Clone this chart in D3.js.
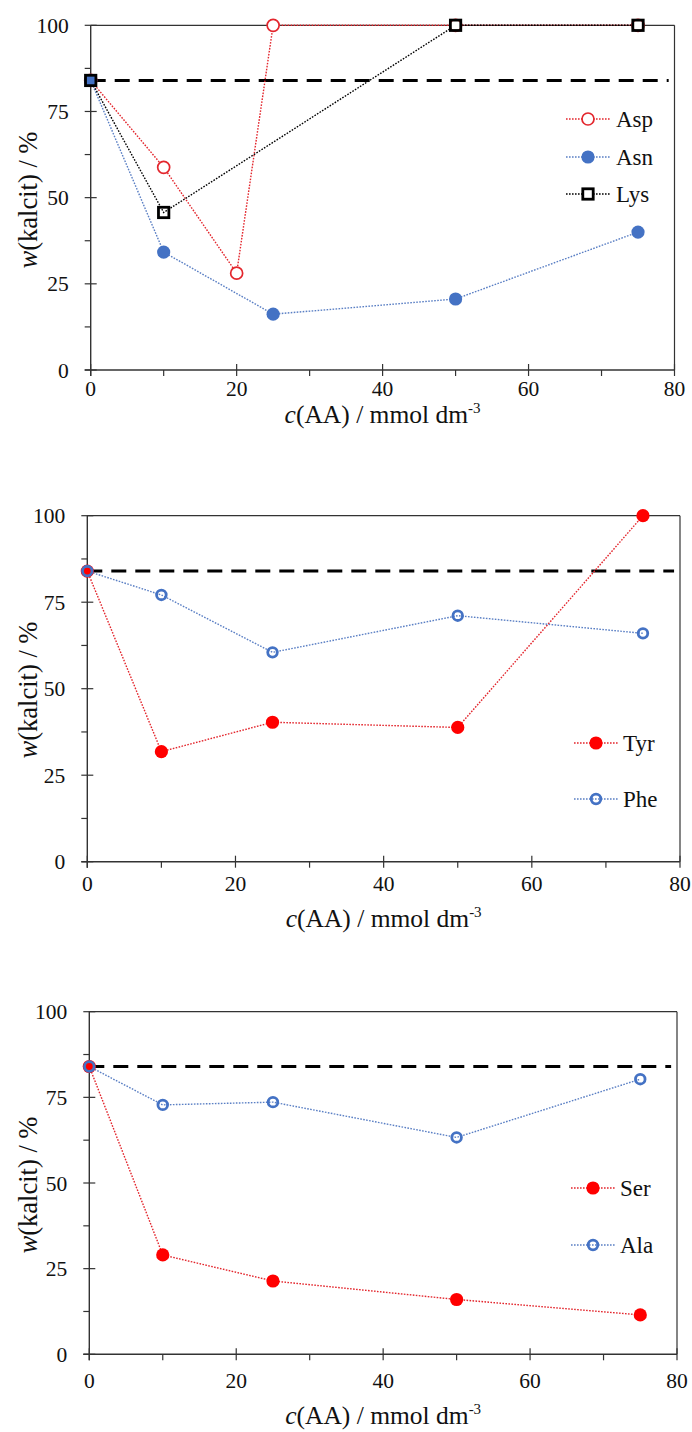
<!DOCTYPE html>
<html>
<head>
<meta charset="utf-8">
<script src="https://cdn.jsdelivr.net/npm/d3@7"></script>
<style>
  html, body { margin: 0; padding: 0; background: #fff; }
  svg { display: block; }
  svg text { font-family: "Liberation Serif", Tinos, "Times New Roman", Times, "DejaVu Serif", "Noto Serif", FreeSerif, serif; }
</style>
</head>
<body>
<svg id="chart" width="692" height="1432"></svg>
<script>
// ---- data ----
const xTickValues = [0, 20, 40, 60, 80];
const yTickValues = [0, 25, 50, 75, 100];
const referenceLevel = 84;

const aspX = [0, 10, 20, 25, 50, 75];
const aspY = [84, 58.8, 28.1, 100, 100, 100];
const asnX = [0, 10, 25, 50, 75];
const asnY = [84, 34.2, 16.2, 20.6, 40];
const lysX = [0, 10, 50, 75];
const lysY = [84, 45.7, 100, 100];

const tyrX = [0, 10, 25, 50, 75];
const tyrY = [84, 31.8, 40.3, 38.8, 100];
const pheX = [0, 10, 25, 50, 75];
const pheY = [84, 77.1, 60.5, 71.1, 66.0];

const serX = [0, 10, 25, 50, 75];
const serY = [84, 29.0, 21.4, 16.0, 11.5];
const alaX = [0, 10, 25, 50, 75];
const alaY = [84, 72.8, 73.6, 63.3, 80.3];

// ---- styles ----
const RED_OPEN = "#e3262d";
const RED = "#ff0000";
const BLUE = "#4472c4";
const BLUE_LINE = "#5a7fc4";

const panels = [
  { left: 90.7, right: 674.5, top: 25.3, bottom: 370, tickBase: 396, titleBase: 423, yTitleY: 200,
    legendX: 588, legendTextX: 616, legendYs: [119, 157, 194],
    series: [
      { name: "Asp", xs: aspX, ys: aspY, marker: "openCircle", color: RED_OPEN, line: RED_OPEN },
      { name: "Asn", xs: asnX, ys: asnY, marker: "filledCircle", color: BLUE, line: BLUE_LINE },
      { name: "Lys", xs: lysX, ys: lysY, marker: "square", color: "#000", line: "#000" }
    ] },
  { left: 87.3, right: 680, top: 515.7, bottom: 861.7, tickBase: 891, titleBase: 927, yTitleY: 690,
    legendX: 596, legendTextX: 623, legendYs: [743, 799],
    series: [
      { name: "Tyr", xs: tyrX, ys: tyrY, marker: "filledCircle", color: RED, line: RED_OPEN },
      { name: "Phe", xs: pheX, ys: pheY, marker: "ring", color: BLUE, line: BLUE_LINE }
    ] },
  { left: 89.3, right: 677, top: 1011.7, bottom: 1354.3, tickBase: 1388, titleBase: 1424, yTitleY: 1185,
    legendX: 593, legendTextX: 620, legendYs: [1188, 1245],
    series: [
      { name: "Ser", xs: serX, ys: serY, marker: "filledCircle", color: RED, line: RED_OPEN },
      { name: "Ala", xs: alaX, ys: alaY, marker: "ring", color: BLUE, line: BLUE_LINE }
    ] }
];

const svg = d3.select("#chart");
const AXIS = "#333";

function drawMarker(g, type, color, cx, cy) {
  if (type === "openCircle") {
    g.append("circle").attr("cx", cx).attr("cy", cy).attr("r", 6)
      .attr("fill", "#fff").attr("stroke", color).attr("stroke-width", 1.7);
  } else if (type === "filledCircle") {
    g.append("circle").attr("cx", cx).attr("cy", cy).attr("r", 6.6)
      .attr("fill", color).attr("stroke", "none");
  } else if (type === "ring") {
    g.append("circle").attr("cx", cx).attr("cy", cy).attr("r", 4.8)
      .attr("fill", "none").attr("stroke", color).attr("stroke-width", 2.8);
  } else if (type === "square") {
    g.append("rect").attr("x", cx - 5.2).attr("y", cy - 5.2).attr("width", 10.4).attr("height", 10.4)
      .attr("fill", "none").attr("stroke", color).attr("stroke-width", 2.8);
  }
}

function txt(g) {
  return g.append("text").attr("fill", "#111");
}

panels.forEach(p => {
  const x = d3.scaleLinear().domain([0, 80]).range([p.left, p.right]);
  const y = d3.scaleLinear().domain([0, 100]).range([p.bottom, p.top]);
  const g = svg.append("g");

  // frame (top and right)
  g.append("line").attr("x1", p.left).attr("x2", p.right).attr("y1", p.top).attr("y2", p.top)
    .attr("stroke", AXIS).attr("stroke-width", 1.2);
  g.append("line").attr("x1", p.right).attr("x2", p.right).attr("y1", p.top).attr("y2", p.bottom)
    .attr("stroke", AXIS).attr("stroke-width", 1.2);

  // x axis
  const xMinor = d3.range(10, 80, 20);
  g.append("line").attr("x1", p.left - 6).attr("x2", p.right).attr("y1", p.bottom).attr("y2", p.bottom)
    .attr("stroke", AXIS).attr("stroke-width", 1.4);
  xTickValues.forEach(v => {
    g.append("line").attr("x1", x(v)).attr("x2", x(v)).attr("y1", p.bottom - 6).attr("y2", p.bottom + 6)
      .attr("stroke", AXIS).attr("stroke-width", 1.2);
    txt(g).attr("x", x(v)).attr("y", p.tickBase).attr("text-anchor", "middle")
      .attr("font-size", 21.5).text(v);
  });
  xMinor.forEach(v => {
    g.append("line").attr("x1", x(v)).attr("x2", x(v)).attr("y1", p.bottom).attr("y2", p.bottom + 6)
      .attr("stroke", AXIS).attr("stroke-width", 1.2);
  });

  // y axis
  const yMinor = d3.range(12.5, 100, 25);
  g.append("line").attr("x1", p.left).attr("x2", p.left).attr("y1", p.top).attr("y2", p.bottom + 6)
    .attr("stroke", AXIS).attr("stroke-width", 1.4);
  yTickValues.forEach(v => {
    g.append("line").attr("x1", p.left - 6).attr("x2", p.left + 6).attr("y1", y(v)).attr("y2", y(v))
      .attr("stroke", AXIS).attr("stroke-width", 1.2);
    txt(g).attr("x", p.left - 22).attr("y", y(v) + 7.5).attr("text-anchor", "end")
      .attr("font-size", 21.5).text(v);
  });
  yMinor.forEach(v => {
    g.append("line").attr("x1", p.left - 6).attr("x2", p.left).attr("y1", y(v)).attr("y2", y(v))
      .attr("stroke", AXIS).attr("stroke-width", 1.2);
  });

  // axis titles
  const xt = txt(g).attr("x", (p.left + p.right) / 2).attr("y", p.titleBase)
    .attr("text-anchor", "middle").attr("font-size", 25.5);
  xt.append("tspan").attr("font-style", "italic").text("c");
  xt.append("tspan").text("(AA) / mmol dm");
  xt.append("tspan").attr("font-size", 15).attr("dy", -10).text("-3");

  const yt = txt(g).attr("transform", `translate(37,${p.yTitleY}) rotate(-90)`)
    .attr("text-anchor", "middle").attr("font-size", 26.5);
  yt.append("tspan").attr("font-style", "italic").text("w");
  yt.append("tspan").text("(kalcit) / %");

  // reference dashed line
  g.append("line").attr("x1", x(0)).attr("x2", x(79.2)).attr("y1", y(referenceLevel)).attr("y2", y(referenceLevel))
    .attr("stroke", "#000").attr("stroke-width", 3).attr("stroke-dasharray", "15,9");

  // series lines
  p.series.forEach(s => {
    const pts = s.xs.map((v, i) => [x(v), y(s.ys[i])]);
    g.append("path").attr("d", d3.line()(pts)).attr("fill", "none")
      .attr("stroke", s.line).attr("stroke-width", 1.4).attr("stroke-dasharray", "1.6,1.4");
  });
  // markers
  p.series.forEach(s => {
    s.xs.forEach((v, i) => drawMarker(g, s.marker, s.color, x(v), y(s.ys[i])));
  });

  // legend
  p.series.forEach((s, i) => {
    const ly = p.legendYs[i];
    g.append("line").attr("x1", p.legendX - 22).attr("x2", p.legendX + 22).attr("y1", ly).attr("y2", ly)
      .attr("stroke", s.line).attr("stroke-width", 1.4).attr("stroke-dasharray", "1.6,1.4");
    if (s.marker === "square") {
      g.append("rect").attr("x", p.legendX - 5).attr("y", ly - 5).attr("width", 10).attr("height", 10).attr("fill", "#fff");
    }
    drawMarker(g, s.marker, s.color, p.legendX, ly);
    txt(g).attr("x", p.legendTextX).attr("y", ly + 7.5).attr("font-size", 23).text(s.name);
  });
});
</script>
</body>
</html>
